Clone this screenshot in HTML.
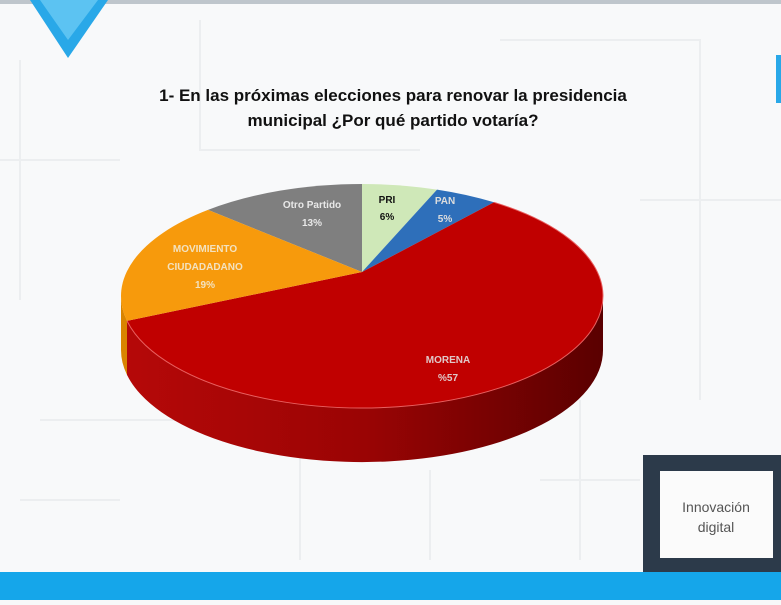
<!DOCTYPE html>
<html><head><meta charset="utf-8"><style>
body{margin:0;width:781px;height:600px;overflow:hidden;background:#f7f8f9;font-family:"Liberation Sans",sans-serif}
</style></head><body>
<svg width="781" height="600" xmlns="http://www.w3.org/2000/svg">
<defs>
<linearGradient id="rs" x1="0" x2="1" y1="0" y2="0">
<stop offset="0" stop-color="#b50808"/><stop offset="0.5" stop-color="#9a0404"/><stop offset="1" stop-color="#5a0000"/>
</linearGradient>
</defs>
<rect width="781" height="600" fill="#f8f9fa"/>
<g stroke="#eceef0" stroke-width="2" fill="none">
<path d="M0 160H120M20 60V300M200 20V150H420M500 40H700V150M640 200H781M700 150V400M40 420H300V560M20 500H120M540 480H640M580 400V560M430 470V560"/>
</g>
<rect x="0" y="0" width="781" height="4" fill="#bfc6cc"/>
<polygon points="30,0 108,0 68,58" fill="#29a8e8"/>
<polygon points="40,0 98,0 68,40" fill="#5cc3f2"/>
<rect x="776" y="55" width="5" height="48" fill="#29a8e8"/>
<text x="393" y="101" text-anchor="middle" font-size="17" font-weight="bold" fill="#111">1- En las próximas elecciones para renovar la presidencia</text>
<text x="393" y="126" text-anchor="middle" font-size="17" font-weight="bold" fill="#111">municipal ¿Por qué partido votaría?</text>
<!-- sides -->
<path d="M603,296 A241,112 0 0 1 127,320.9 L127,374.9 A241,112 0 0 0 603,350 Z" fill="url(#rs)"/>
<path d="M127,320.9 A241,112 0 0 1 121,296 L121,350 A241,112 0 0 0 127,374.9 Z" fill="#d98400"/>
<!-- top -->
<path d="M362,272 L208,209.9 A241,112 0 0 1 362,184 Z" fill="#7f7f7f"/>
<path d="M362,272 L362,184 A241,112 0 0 1 437,189.6 Z" fill="#cfe8b8"/>
<path d="M362,272 L437,189.6 A241,112 0 0 1 494,202.3 Z" fill="#2e6fba"/>
<path d="M362,272 L494,202.3 A241,112 0 1 1 127,320.9 Z" fill="#c00000"/>
<path d="M362,272 L127,320.9 A241,112 0 0 1 208,209.9 Z" fill="#f79a0c"/>
<path d="M494,202.3 A241,112 0 1 1 127,320.9" fill="none" stroke="#e86060" stroke-width="1"/>
<g font-weight="bold" font-size="10" text-anchor="middle">
<text x="312" y="208" fill="#e8e8e8">Otro Partido</text><text x="312" y="226" fill="#e8e8e8">13%</text>
<text x="387" y="203" fill="#111">PRI</text><text x="387" y="220" fill="#111">6%</text>
<text x="445" y="204" fill="#ddd">PAN</text><text x="445" y="222" fill="#ddd">5%</text>
<text x="205" y="252" fill="#f3e2c0">MOVIMIENTO</text><text x="205" y="270" fill="#f3e2c0">CIUDADADANO</text><text x="205" y="288" fill="#f3e2c0">19%</text>
<text x="448" y="363" fill="#e0c8c8">MORENA</text><text x="448" y="381" fill="#e0c8c8">%57</text>
</g>
<rect x="643" y="455" width="138" height="120" fill="#2c3a4a"/>
<rect x="660" y="471" width="113" height="87" fill="#fbfbfb"/>
<text x="716" y="512" text-anchor="middle" font-size="14" fill="#555">Innovación</text>
<text x="716" y="532" text-anchor="middle" font-size="14" fill="#555">digital</text>
<rect x="0" y="572" width="781" height="28" fill="#15a6ea"/>
</svg>
</body></html>
